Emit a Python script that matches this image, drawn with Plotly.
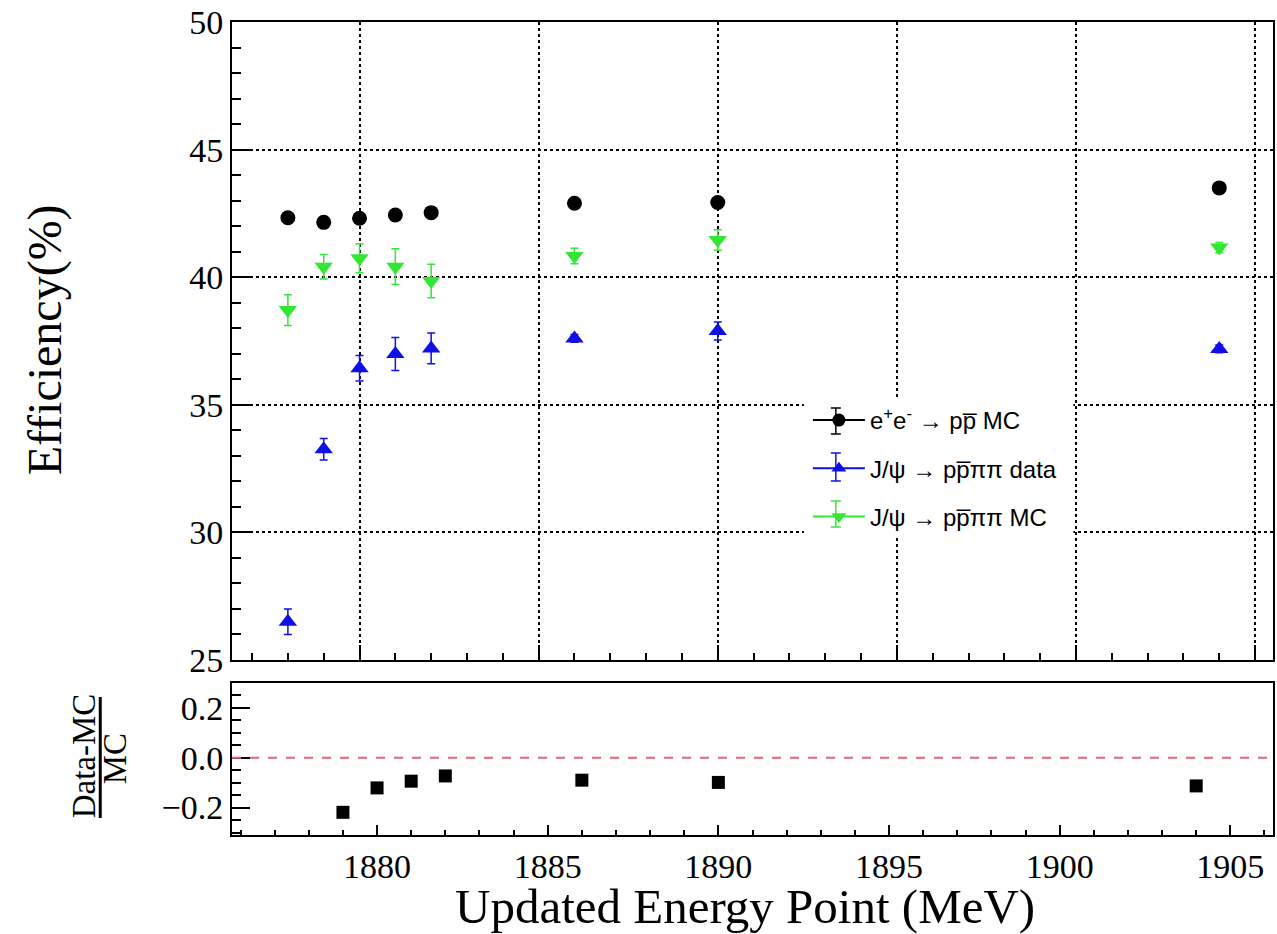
import plotly.graph_objects as go

# ---- data ----
x_main = [1878, 1879, 1880, 1881, 1882, 1886, 1890, 1904]
eff_ee = [42.33, 42.15, 42.31, 42.44, 42.53, 42.90, 42.93, 43.50]
err_ee = [0.12, 0.12, 0.12, 0.12, 0.12, 0.12, 0.12, 0.12]
eff_data = [26.50, 33.26, 36.43, 36.99, 37.21, 37.60, 37.89, 37.19]
err_data = [0.50, 0.42, 0.50, 0.65, 0.60, 0.15, 0.35, 0.15]
eff_mc = [38.71, 40.41, 40.74, 40.41, 39.85, 40.83, 41.46, 41.16]
err_mc = [0.60, 0.48, 0.57, 0.70, 0.66, 0.30, 0.40, 0.20]

x_ratio = [1879, 1880, 1881, 1882, 1886, 1890, 1904]
ratio = [-0.219, -0.121, -0.094, -0.073, -0.090, -0.099, -0.113]

lbl_ee = "e<sup>+</sup>e<sup>-</sup> \u2192 pp\u0305 MC"
lbl_data = "J/\u03c8 \u2192 pp\u0305\u03c0\u03c0 data"
lbl_mc = "J/\u03c8 \u2192 pp\u0305\u03c0\u03c0 MC"

BLACK = "#000000"
BLUE = "#1010e6"
GREEN = "#33e633"
SERIF = "Liberation Serif, Times New Roman, serif"
SANS = "Liberation Sans, Arial, sans-serif"

fig = go.Figure()

def err(arr, color):
    return dict(type="data", array=arr, visible=True, color=color, thickness=1.5, width=4)

fig.add_trace(go.Scatter(x=x_main, y=eff_ee, mode="markers", showlegend=False,
                         marker=dict(symbol="circle", size=15, color=BLACK),
                         error_y=err(err_ee, BLACK), xaxis="x", yaxis="y"))
fig.add_trace(go.Scatter(x=x_main, y=eff_data, mode="markers", showlegend=False,
                         marker=dict(symbol="triangle-up", size=16, color=BLUE),
                         error_y=err(err_data, BLUE), xaxis="x", yaxis="y"))
fig.add_trace(go.Scatter(x=x_main, y=eff_mc, mode="markers", showlegend=False,
                         marker=dict(symbol="triangle-down", size=16, color=GREEN),
                         error_y=err(err_mc, GREEN), xaxis="x", yaxis="y"))

# legend-only entries (line + marker, ROOT style)
for name, sym, col, grp in [(lbl_ee, "circle", BLACK, "a"),
                            (lbl_data, "triangle-up", BLUE, "b"),
                            (lbl_mc, "triangle-down", GREEN, "c")]:
    fig.add_trace(go.Scatter(x=[None], y=[None], mode="lines+markers", name=name,
                             legendgroup=grp,
                             line=dict(color=col, width=2),
                             marker=dict(symbol=sym, size=13, color=col),
                             xaxis="x", yaxis="y"))

fig.add_trace(go.Scatter(x=x_ratio, y=ratio, mode="markers", showlegend=False,
                         marker=dict(symbol="square", size=13, color=BLACK),
                         xaxis="x2", yaxis="y2"))

H_TOP = 22
H_BOT = 99
PLOT_H = 934 - H_TOP - H_BOT
def py(pix):
    return (934 - H_BOT - pix) / PLOT_H
L = 232
W = 1277 - L - 2
def px(pix):
    return (pix - L) / W

fig.add_shape(type="line", xref="x2 domain", yref="y2", x0=0, x1=1, y0=0, y1=0,
              line=dict(color="#f0607a", width=2, dash="dash"))

# white legend box (covers grid), then legend error bars on top
fig.add_shape(type="rect", xref="paper", yref="paper", layer="above",
              x0=px(805), x1=px(1075), y0=py(538), y1=py(399),
              fillcolor="white", line=dict(width=0))
for yc, col, half in [(421, BLACK, 13), (467, BLUE, 14), (514, GREEN, 13)]:
    xc = 837
    fig.add_shape(type="line", xref="paper", yref="paper", layer="above",
                  x0=px(xc), x1=px(xc), y0=py(yc - half), y1=py(yc + half),
                  line=dict(color=col, width=1.5))
    for yy in (yc - half, yc + half):
        fig.add_shape(type="line", xref="paper", yref="paper", layer="above",
                      x0=px(xc - 5), x1=px(xc + 5), y0=py(yy), y1=py(yy),
                      line=dict(color=col, width=1.5))

axis_common = dict(showline=True, linecolor="black", linewidth=2, mirror=True,
                   ticks="inside", tickcolor="black", tickwidth=1.5, zeroline=False)

fig.update_layout(
    width=1277, height=934,
    margin=dict(l=L, r=2, t=H_TOP, b=H_BOT),
    paper_bgcolor="white", plot_bgcolor="white",
    xaxis=dict(domain=[0, 1], range=[1876.44, 1905.5], anchor="y",
               tickvals=[1880, 1885, 1890, 1895, 1900, 1905], showticklabels=False,
               ticklen=15, showgrid=True, gridcolor="black", griddash="dot", gridwidth=1.5,
               minor=dict(dtick=1, tick0=1880, ticklen=7, ticks="inside", tickcolor="black", showgrid=False),
               **axis_common),
    yaxis=dict(domain=[py(660), 1], range=[25, 50], anchor="x",
               tickvals=[25, 30, 35, 40, 45, 50], ticklen=18,
               showgrid=True, gridcolor="black", griddash="dot", gridwidth=1.5,
               tickfont=dict(family=SERIF, size=34, color="black"),
               minor=dict(dtick=1, tick0=25, ticklen=9, ticks="inside", tickcolor="black", showgrid=False),
               **axis_common),
    xaxis2=dict(domain=[0, 1], range=[1875.75, 1906.25], anchor="y2",
                tickvals=[1880, 1885, 1890, 1895, 1900, 1905], ticklen=10,
                tickfont=dict(family=SERIF, size=34, color="black"), showgrid=False,
                minor=dict(dtick=1, tick0=1880, ticklen=5, ticks="inside", tickcolor="black", showgrid=False),
                **axis_common),
    yaxis2=dict(domain=[0, py(683)], range=[-0.31, 0.30], anchor="x2",
                tickvals=[-0.2, 0.0, 0.2], tickformat=".1f", ticklen=18, showgrid=False,
                tickfont=dict(family=SERIF, size=34, color="black"),
                minor=dict(dtick=0.05, tick0=0, ticklen=9, ticks="inside", tickcolor="black", showgrid=False),
                **axis_common),
    legend=dict(x=px(809), y=py(398), xanchor="left", yanchor="top",
                bgcolor="rgba(0,0,0,0)", borderwidth=0, itemwidth=52, tracegroupgap=14,
                font=dict(family=SANS, size=24, color="black")),
    showlegend=True,
)

fig.add_annotation(text="Efficiency(%)", xref="paper", yref="paper",
                   x=px(45), y=py(340), xanchor="center", yanchor="middle",
                   textangle=-90, showarrow=False,
                   font=dict(family=SERIF, size=48, color="black"))
fig.add_annotation(text="Updated Energy Point (MeV)", xref="paper", yref="paper",
                   x=px(746), y=py(907), xanchor="center", yanchor="middle", showarrow=False,
                   font=dict(family=SERIF, size=49, color="black"))
fig.add_annotation(text="Data-MC", xref="paper", yref="paper",
                   x=px(84), y=py(756), xanchor="center", yanchor="middle",
                   textangle=-90, showarrow=False,
                   font=dict(family=SERIF, size=33, color="black"))
fig.add_annotation(text="MC", xref="paper", yref="paper",
                   x=px(115), y=py(759), xanchor="center", yanchor="middle",
                   textangle=-90, showarrow=False,
                   font=dict(family=SERIF, size=33, color="black"))
fig.add_shape(type="line", xref="paper", yref="paper",
              x0=px(100), x1=px(100), y0=py(697), y1=py(818),
              line=dict(color="black", width=3))

fig.write_html("out.html")
